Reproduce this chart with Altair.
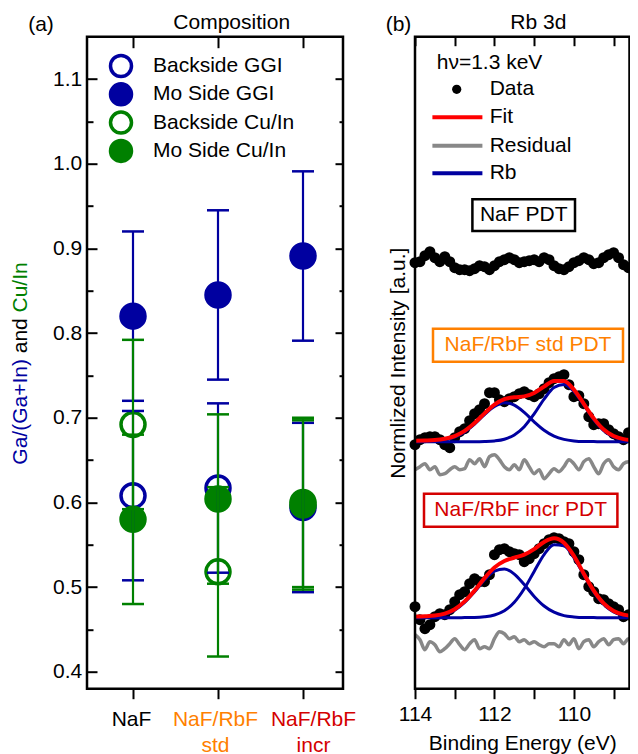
import altair as alt
import pandas as pd

FONT = "Liberation Sans"
FS = 21
BLUE = "#0000a0"
GREEN = "#008000"
ORANGE = "#ff8000"
RED = "#d40000"
GRAY = "#888888"
FIT_RED = "#ff0000"

# overall frame geometry (pixels, relative to the left panel's top-left corner)
LEFT_W = 256
RIGHT_X0 = 328
RIGHT_W = 214.5
W_TOTAL = RIGHT_X0 + RIGHT_W
H = 652

# ---------------- panel (a): composition ----------------
categories = ["NaF", "NaF/RbF std", "NaF/RbF incr"]
backside_ggi = [0.608, 0.617, 0.594]
mo_side_ggi = [0.820, 0.845, 0.891]
backside_cuin = [0.692, 0.518, 0.597]
mo_side_cuin = [0.580, 0.604, 0.600]
err_backside_ggi = [0.10, 0.10, 0.10]
err_mo_side_ggi = [0.10, 0.10, 0.10]
err_backside_cuin = [0.10, 0.10, 0.10]
err_mo_side_cuin = [0.10, 0.10, 0.10]
series_names = ["Backside GGI", "Mo Side GGI", "Backside Cu/In", "Mo Side Cu/In"]
y_ticks = [0.40, 0.45, 0.50, 0.55, 0.60, 0.65, 0.70, 0.75, 0.80, 0.85,
           0.90, 0.95, 1.00, 1.05, 1.10]
cat_ticks = [1, 2, 3]

# ---------------- panel (b): Rb 3d spectra ----------------
energy = [114.0, 113.875, 113.75, 113.625, 113.5, 113.375, 113.25, 113.125,
          113.0, 112.875, 112.75, 112.625, 112.5, 112.375, 112.25, 112.125,
          112.0, 111.875, 111.75, 111.625, 111.5, 111.375, 111.25, 111.125,
          111.0, 110.875, 110.75, 110.625, 110.5, 110.375, 110.25, 110.125,
          110.0, 109.875, 109.75, 109.625, 109.5, 109.375, 109.25, 109.125,
          109.0, 108.875, 108.75, 108.625, 108.5]
naf_data = [0.01, 0.02, 0.08, 0.12, 0.06, 0.02, 0.07, 0.02, -0.04, -0.06,
            -0.06, -0.07, -0.05, -0.02, -0.03, -0.06, -0.02, 0.02, 0.04, 0.06,
            0.04, 0.01, 0.02, 0.03, 0.04, 0.02, 0.06, 0.04, -0.02, -0.05,
            -0.06, -0.03, 0.01, 0.03, 0.06, 0.04, 0.00, 0.01, 0.06, 0.09,
            0.11, 0.06, -0.01, -0.04, -0.04]
std_data = [-0.03, 0.02, 0.04, 0.05, 0.05, 0.02, -0.03, -0.06, 0.04, 0.10,
            0.13, 0.21, 0.28, 0.32, 0.38, 0.49, 0.49, 0.42, 0.40, 0.43,
            0.45, 0.48, 0.50, 0.47, 0.45, 0.48, 0.53, 0.59, 0.63, 0.65,
            0.67, 0.57, 0.45, 0.46, 0.38, 0.25, 0.17, 0.18, 0.18, 0.12,
            0.08, 0.05, 0.02, 0.09, 0.07]
incr_data = [0.11, -0.02, -0.11, -0.07, 0.01, 0.04, 0.03, 0.08, 0.16, 0.23,
             0.26, 0.34, 0.39, 0.36, 0.36, 0.43, 0.63, 0.68, 0.69, 0.66,
             0.64, 0.63, 0.56, 0.59, 0.64, 0.69, 0.74, 0.78, 0.80, 0.79,
             0.76, 0.74, 0.66, 0.58, 0.43, 0.31, 0.26, 0.19, 0.18, 0.14,
             0.11, 0.08, 0.01, 0.03, 0.00]
std_resid = [-0.03, 0.00, 0.03, -0.03, 0.00, -0.08, -0.07, -0.03, 0.00, -0.03,
             -0.02, 0.07, 0.03, 0.08, 0.00, 0.10, 0.12, 0.07, 0.00, -0.03,
             0.02, -0.03, 0.07, 0.00, -0.07, -0.03, -0.12, -0.07, -0.02, -0.05,
             0.00, 0.07, 0.03, -0.03, 0.05, 0.08, 0.00, -0.07, 0.03, 0.07,
             0.00, -0.03, 0.03, 0.05, 0.04]
incr_resid = [0.08, 0.03, -0.07, 0.01, -0.02, -0.09, -0.06, -0.01, 0.04, -0.02,
              -0.07, -0.01, 0.03, -0.06, -0.04, -0.06, 0.04, 0.11, 0.09, 0.04,
              0.06, 0.01, 0.03, -0.01, 0.01, -0.02, -0.04, -0.01, -0.01, -0.04,
              0.03, -0.02, 0.04, -0.06, 0.01, 0.03, -0.04, 0.01, 0.04, -0.02,
              0.03, 0.04, -0.01, 0.04, 0.02]
fit_energy = [114.0, 113.75, 113.5, 113.25, 113.0, 112.75, 112.5, 112.25,
              112.0, 111.75, 111.5, 111.25, 111.0, 110.75, 110.5, 110.25,
              110.0, 109.75, 109.5, 109.25, 109.0, 108.75, 108.5]
std_fit = [0.010, 0.012, 0.016, 0.029, 0.056, 0.108, 0.187, 0.283, 0.370,
           0.425, 0.444, 0.453, 0.487, 0.551, 0.608, 0.606, 0.521, 0.379,
           0.233, 0.122, 0.057, 0.026, 0.015]
std_rb_32 = [0.000, 0.002, 0.006, 0.019, 0.046, 0.098, 0.177, 0.271, 0.352,
             0.390, 0.366, 0.293, 0.199, 0.115, 0.056, 0.023, 0.008, 0.002,
             0.001, 0.000, 0.000, 0.000, 0.000]
std_rb_52 = [0.000, 0.000, 0.000, 0.000, 0.000, 0.000, 0.000, 0.002, 0.008,
             0.025, 0.068, 0.150, 0.278, 0.426, 0.542, 0.573, 0.503, 0.367,
             0.222, 0.112, 0.047, 0.016, 0.005]
incr_fit = [0.011, 0.014, 0.021, 0.041, 0.085, 0.163, 0.271, 0.396, 0.502,
            0.567, 0.600, 0.630, 0.686, 0.758, 0.795, 0.750, 0.619, 0.440,
            0.270, 0.143, 0.068, 0.031, 0.017]
incr_rb_32 = [0.001, 0.004, 0.011, 0.031, 0.075, 0.152, 0.259, 0.377, 0.465,
              0.488, 0.436, 0.331, 0.213, 0.117, 0.055, 0.021, 0.008, 0.002,
              0.001, 0.000, 0.000, 0.000, 0.000]
incr_rb_52 = [0.000, 0.000, 0.000, 0.000, 0.000, 0.001, 0.002, 0.009, 0.027,
              0.069, 0.154, 0.289, 0.463, 0.631, 0.730, 0.719, 0.601, 0.428,
              0.259, 0.133, 0.058, 0.021, 0.007]
e_ticks = [114, 113, 112, 111, 110, 109]

# vertical offsets used to stack the spectra
NAF_OFFSET = 4.25
STD_OFFSET = 2.47
INCR_OFFSET = 0.71
RESID_SHIFT = -0.25

# ======================= helpers =======================
one = pd.DataFrame({"k": [0]})


def txt(text, x, y, color="black", align="center", baseline="alphabetic",
        angle=0, size=FS):
    kw = dict(text=text, font=FONT, fontSize=size, color=color, align=align,
              baseline=baseline)
    if angle:
        kw["angle"] = angle
    return alt.Chart(one).mark_text(**kw).encode(x=alt.value(x), y=alt.value(y))


def box(x1, x2, y1, y2, color, fill_op=1.0):
    return alt.Chart(one).mark_rect(fill="white", fillOpacity=fill_op, stroke=color,
                                    strokeWidth=2.5).encode(
        x=alt.value(x1), x2=alt.value(x2), y=alt.value(y1), y2=alt.value(y2))


def seg(x1, x2, y, color, width):
    return alt.Chart(one).mark_rule(color=color, strokeWidth=width).encode(
        x=alt.value(x1), x2=alt.value(x2), y=alt.value(y))


# ======================= panel (a) =======================
vals = {
    "Backside GGI": (backside_ggi, err_backside_ggi, "GGI"),
    "Mo Side GGI": (mo_side_ggi, err_mo_side_ggi, "GGI"),
    "Backside Cu/In": (backside_cuin, err_backside_cuin, "CuIn"),
    "Mo Side Cu/In": (mo_side_cuin, err_mo_side_cuin, "CuIn"),
}
draw_order = ["Backside GGI", "Backside Cu/In", "Mo Side GGI", "Mo Side Cu/In"]
rows = []
for rank, name in enumerate(draw_order):
    v, e, grp = vals[name]
    for i, cat in enumerate(categories):
        rows.append(dict(series=name, cat=cat, pos=i + 1, value=v[i],
                         lo=v[i] - e[i], hi=v[i] + e[i], group=grp, rank=rank))
comp = pd.DataFrame(rows)

xs_l = alt.Scale(domain=[0.4588, 3.4706], range=[0, LEFT_W], nice=False, zero=False)
ys_l = alt.Scale(domain=[0.38, 1.15], range=[H, 0], nice=False, zero=False)
MAJOR = "abs(datum.value * 10 - round(datum.value * 10)) < 0.01"
stroke_cols = {"Backside GGI": BLUE, "Mo Side GGI": BLUE,
               "Backside Cu/In": GREEN, "Mo Side Cu/In": GREEN}
fill_cols = {"Backside GGI": "white", "Mo Side GGI": BLUE,
             "Backside Cu/In": "white", "Mo Side Cu/In": GREEN}

x_axis_l = alt.Axis(
    orient="bottom", values=cat_ticks, title=None, grid=False, domain=False,
    labelExpr="datum.value == 1 ? 'NaF' : datum.value == 2 ? ['NaF/RbF', 'std'] : ['NaF/RbF', 'incr']",
    labelColor={"expr": f"datum.value == 2 ? '{ORANGE}' : datum.value == 3 ? '{RED}' : 'black'"},
    labelOffset={"expr": "datum.value == 3 ? 10 : datum.value == 2 ? -3 : -2"},
    labelFont=FONT, labelFontSize=FS, labelLineHeight=26.5, labelPadding=9.5,
    labelFlush=False, labelOverlap=False,
    tickSize=10, tickWidth=2, tickColor="black")
y_axis_l = alt.Axis(
    orient="left", values=y_ticks, title=None, grid=False, domain=False,
    labelExpr=f"{MAJOR} ? format(datum.value, '.1f') : ''",
    labelFont=FONT, labelFontSize=FS, labelColor="black", labelPadding=15.3,
    labelOverlap=False, labelFlush=False,
    tickSize={"expr": f"{MAJOR} ? -10 : -6"}, tickWidth=2, tickColor="black")

stroke_scale = alt.Scale(domain=series_names, range=[BLUE, BLUE, GREEN, GREEN])
fill_scale = alt.Scale(domain=series_names, range=["white", BLUE, "white", GREEN])

markers = alt.Chart(comp).mark_point(
    shape="circle", size=576, strokeWidth=3.5, opacity=1, filled=False
).encode(
    x=alt.X("pos:Q", scale=xs_l, axis=None),
    y=alt.Y("value:Q", scale=ys_l, axis=None),
    stroke=alt.Stroke("series:N", scale=stroke_scale, legend=None),
    fill=alt.Fill("series:N", scale=fill_scale, legend=None),
    order=alt.Order("rank:Q"),
)


def errbars(df, color):
    rule = alt.Chart(df).mark_rule(color=color, strokeWidth=2.2).encode(
        x=alt.X("pos:Q", scale=xs_l, axis=None),
        y=alt.Y("lo:Q", scale=ys_l, axis=None),
        y2="hi:Q")
    caps = alt.Chart(df).transform_fold(["lo", "hi"], as_=["end", "cap"]).mark_tick(
        color=color, orient="horizontal", size=22, thickness=2.5, opacity=1
    ).encode(
        x=alt.X("pos:Q", scale=xs_l, axis=None),
        y=alt.Y("cap:Q", scale=ys_l, axis=None))
    return [rule, caps]


ggi_df = comp[comp.group == "GGI"]
cuin_df = comp[comp.group == "CuIn"]

legend_layers = []
for j, name in enumerate(series_names):
    ly = 29.3 + 28.3 * j
    legend_layers.append(
        alt.Chart(one).mark_point(shape="circle", size=441, strokeWidth=3.5,
                                  opacity=1, stroke=stroke_cols[name],
                                  fill=fill_cols[name]).encode(
            x=alt.value(34), y=alt.value(ly)))
    legend_layers.append(txt(name, 66, ly, align="left", baseline="middle"))

left_axes = alt.Chart(comp).mark_point(opacity=0).encode(
    x=alt.X("pos:Q", scale=xs_l, axis=x_axis_l),
    y=alt.Y("value:Q", scale=ys_l, axis=y_axis_l),
)
left_mirror = alt.Chart(comp).mark_point(opacity=0).encode(
    x=alt.X("pos:Q", scale=xs_l, axis=alt.Axis(
        orient="top", values=cat_ticks, labels=False, title=None, grid=False,
        domain=False, tickSize={"expr": "-11"}, tickWidth=2, tickColor="black")),
    y=alt.Y("value:Q", scale=ys_l, axis=alt.Axis(
        orient="right", values=y_ticks, labels=False, title=None, grid=False,
        domain=False, offset={"expr": f"-{W_TOTAL - LEFT_W}"},
        tickSize={"expr": f"{MAJOR} ? -8 : -4"}, tickWidth=2,
        tickColor="black")),
)
left_panel = alt.layer(
    markers,
    *errbars(ggi_df, BLUE),
    *errbars(cuin_df, GREEN),
    *legend_layers,
    txt("(a)", -46, -5.7),
    txt("Composition", 144.7, -7.4),
    txt("Ga/(Ga+In)", -66, 428, color=BLUE, align="left", baseline="middle", angle=270),
    txt("and", -66, 316.6, align="left", baseline="middle", angle=270),
    txt("Cu/In", -66, 275.8, color=GREEN, align="left", baseline="middle", angle=270),
    box(0, LEFT_W, 0, H, "black", 0.0),
    left_axes, left_mirror,
).resolve_axis(x="independent", y="independent")

# ======================= panel (b) =======================
dots_rows, resid_rows, curve_rows = [], [], []
for name, d, off in [("naf", naf_data, NAF_OFFSET), ("std", std_data, STD_OFFSET),
                     ("incr", incr_data, INCR_OFFSET)]:
    for e, v in zip(energy, d):
        dots_rows.append({"spec": name, "E": e, "I": v + off})
for name, d, off in [("std", std_resid, STD_OFFSET), ("incr", incr_resid, INCR_OFFSET)]:
    for e, v in zip(energy, d):
        resid_rows.append({"spec": name, "E": e, "I": v + off + RESID_SHIFT})
for name, d, off, kind in [("std_a", std_rb_32, STD_OFFSET, "rb"),
                           ("std_b", std_rb_52, STD_OFFSET, "rb"),
                           ("incr_a", incr_rb_32, INCR_OFFSET, "rb"),
                           ("incr_b", incr_rb_52, INCR_OFFSET, "rb"),
                           ("std_fit", std_fit, STD_OFFSET, "fit"),
                           ("incr_fit", incr_fit, INCR_OFFSET, "fit")]:
    for e, v in zip(fit_energy, d):
        curve_rows.append({"curve": name, "kind": kind, "E": e, "I": v + off})
dots_df = pd.DataFrame(dots_rows)
resid_df = pd.DataFrame(resid_rows)
curve_df = pd.DataFrame(curve_rows)

xs_r = alt.Scale(domain=[108.6, 114], range=[W_TOTAL, RIGHT_X0], nice=False, zero=False)
ys_r = alt.Scale(domain=[0, 6.52], range=[H, 0], nice=False, zero=False)

x_axis_r = alt.Axis(
    orient="bottom", values=e_ticks, grid=False, domain=False,
    labelExpr="datum.value % 2 == 0 ? format(datum.value, 'd') : ''",
    labelFont=FONT, labelFontSize=FS, labelColor="black", labelPadding=4.9,
    labelFlush=False, labelOverlap=False,
    tickSize=10, tickWidth=2, tickColor="black",
    title="Binding Energy (eV)", titleFont=FONT, titleFontSize=FS,
    titleFontWeight="normal", titleColor="black", titlePadding=8.1)
y_axis_r = alt.Axis(
    orient="left", ticks=False, labels=False, grid=False, domain=False,
    offset={"expr": f"-{RIGHT_X0}"},
    title="Normlized Intensity [a.u.]", titleFont=FONT, titleFontSize=FS,
    titleFontWeight="normal", titleColor="black", titlePadding=7)

resid = alt.Chart(resid_df).mark_line(color=GRAY, strokeWidth=3.5,
                                      interpolate="monotone").encode(
    x=alt.X("E:Q", scale=xs_r, axis=None),
    y=alt.Y("I:Q", scale=ys_r, axis=None),
    detail="spec:N")
dots = alt.Chart(dots_df).mark_circle(size=120, color="black", opacity=1).encode(
    x=alt.X("E:Q", scale=xs_r, axis=None),
    y=alt.Y("I:Q", scale=ys_r, axis=None))
comps = alt.Chart(curve_df).transform_filter("datum.kind == 'rb'").mark_line(
    color=BLUE, strokeWidth=3, interpolate="monotone").encode(
    x=alt.X("E:Q", scale=xs_r, axis=None),
    y=alt.Y("I:Q", scale=ys_r, axis=None),
    detail="curve:N")
fits = alt.Chart(curve_df).transform_filter("datum.kind == 'fit'").mark_line(
    color=FIT_RED, strokeWidth=4, interpolate="monotone").encode(
    x=alt.X("E:Q", scale=xs_r, axis=None),
    y=alt.Y("I:Q", scale=ys_r, axis=None),
    detail="curve:N")

R = RIGHT_X0
legend_dot = alt.Chart(one).mark_circle(size=85, color="black", opacity=1).encode(
    x=alt.value(R + 41.7), y=alt.value(52.6))

right_axes = alt.Chart(dots_df).mark_point(opacity=0).encode(
    x=alt.X("E:Q", scale=xs_r, axis=x_axis_r),
    y=alt.Y("I:Q", scale=ys_r, axis=y_axis_r),
)
right_mirror = alt.Chart(dots_df).mark_point(opacity=0).encode(
    x=alt.X("E:Q", scale=xs_r, axis=alt.Axis(
        orient="top", values=e_ticks, labels=False, title=None, grid=False,
        domain=False, tickSize={"expr": "-9"}, tickWidth=2, tickColor="black")),
    y=alt.Y("I:Q", scale=ys_r, axis=None),
)
right_panel = alt.layer(
    resid, dots, comps, fits,
    box(R + 57.4, R + 160, 162.6, 194.3, "black"),
    txt("NaF PDT", R + 108.7, 178.5, baseline="middle"),
    box(R + 18, R + 208, 292, 325, ORANGE),
    txt("NaF/RbF std PDT", R + 113, 308.5, color=ORANGE, baseline="middle"),
    box(R + 9, R + 202.4, 457, 490, RED),
    txt("NaF/RbF incr PDT", R + 105.7, 473.5, color=RED, baseline="middle"),
    txt("h\u03bd=1.3 keV", R + 21.7, 26, align="left", baseline="middle"),
    legend_dot,
    txt("Data", R + 74.7, 52.6, align="left", baseline="middle"),
    seg(R + 17.4, R + 67.4, 80.6, FIT_RED, 4),
    txt("Fit", R + 74.7, 80.6, align="left", baseline="middle"),
    seg(R + 17.4, R + 67.4, 109, GRAY, 4),
    txt("Residual", R + 74.7, 109, align="left", baseline="middle"),
    seg(R + 17.4, R + 67.4, 136.6, BLUE, 4),
    txt("Rb", R + 74.7, 136.6, align="left", baseline="middle"),
    txt("(b)", R - 16.5, -5.7),
    txt("Rb 3d", R + 123.3, -7.4),
    box(R, W_TOTAL, 0, H, "black", 0.0),
    right_axes, right_mirror,
).resolve_axis(x="independent", y="independent")

chart = alt.layer(left_panel, right_panel).resolve_scale(
    x="independent", y="independent"
).resolve_axis(
    x="independent", y="independent"
).properties(
    width=W_TOTAL, height=H,
    autosize=alt.AutoSizeParams(type="none"),
    padding={"left": 79, "top": 28.7, "right": 0.5, "bottom": 65.3},
).configure(font=FONT).configure_view(stroke="transparent")

chart.save("out.html", embed_options={"renderer": "svg", "actions": False})
